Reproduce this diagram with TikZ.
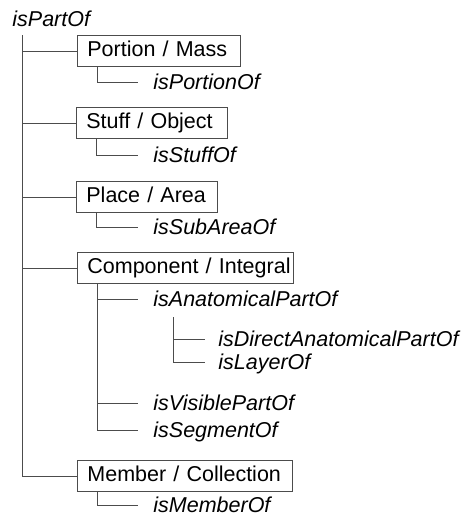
\documentclass[tikz,border=0pt]{standalone}
\usepackage{fontspec}
\setmainfont{Liberation Sans}
\usetikzlibrary{calc}

\begin{document}
\begin{tikzpicture}[x=1pt, y=-1pt, line width=0.8pt,
        box/.style = {draw=black!70, anchor=west, align=left, text height=15.4pt, text depth=4pt,
            inner xsep=10pt, inner ysep=5.8pt, font=\fontsize{21.5}{25}\selectfont},
        rel/.style = {anchor=west, inner sep=0pt, text height=15.4pt, text depth=0pt,
            font=\fontsize{21.5}{25}\selectfont\itshape},
        link/.style = {draw=black!70}]
        \useasboundingbox (0,0) rectangle (470,517);
        % root and the five kinds
        \node[rel] (root) at (12,19) {isPartOf};
        \node[box, text width=143pt] (portion) at (77,51) {Portion / Mass};
        \node[box, text width=131pt] (stuff) at (76,123) {Stuff / Object};
        \node[box, text width=121pt] (place) at (76,197) {Place / Area};
        \node[box, text width=196pt] (component) at (77,268) {\mbox{Component / Integral}};
        \node[box, text width=195pt] (member) at (77,476) {Member / Collection};
        % relations
        \node[rel] (isportion) at (153,82) {isPortionOf};
        \node[rel] (isstuff) at (153,155) {isStuffOf};
        \node[rel] (issubarea) at (153,227) {isSubAreaOf};
        \node[rel] (isanat) at (153,299) {isAnatomicalPartOf};
        \node[rel] (isdirect) at (218,339) {isDirectAnatomicalPartOf};
        \node[rel] (islayer) at (218,362) {isLayerOf};
        \node[rel] (isvisible) at (153,403) {isVisiblePartOf};
        \node[rel] (issegment) at (153,430) {isSegmentOf};
        \node[rel] (ismember) at (153,505) {isMemberOf};
        % trunk
        \coordinate (trunk) at (22,35);
        \draw[link] (trunk) |- (member.west);
        \foreach \b in {portion, stuff, place, component}
            \draw[link] (trunk |- \b.west) -- (\b.west);
        % sub branches
        \draw[link] ([xshift=20pt]portion.south west) |- ([xshift=-15pt]isportion.west);
        \draw[link] ([xshift=20pt]stuff.south west) |- ([xshift=-15pt]isstuff.west);
        \draw[link] ([xshift=20pt]place.south west) |- ([xshift=-15pt]issubarea.west);
        \draw[link] ([xshift=20pt]member.south west) |- ([xshift=-15pt]ismember.west);
        \coordinate (cbar) at ([xshift=20pt]component.south west);
        \draw[link] (cbar) |- ([xshift=-15pt]issegment.west);
        \foreach \r in {isanat, isvisible}
            \draw[link] (cbar |- \r.west) -- ([xshift=-15pt]\r.west);
        \coordinate (abar) at ($(isanat.west)+(20,18)$);
        \draw[link] (abar) |- ([xshift=-13pt]islayer.west);
        \draw[link] (abar |- isdirect.west) -- ([xshift=-13pt]isdirect.west);
\end{tikzpicture}
\end{document}
